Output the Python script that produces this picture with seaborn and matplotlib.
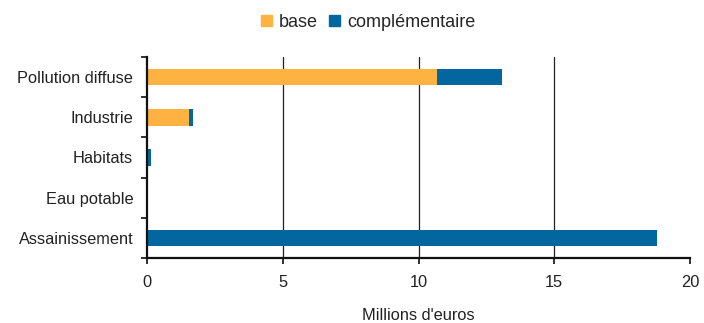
import matplotlib
matplotlib.use("Agg")
import matplotlib.pyplot as plt
import seaborn as sns
import pandas as pd
import numpy as np
from matplotlib.patches import Patch

categories = ["Pollution diffuse", "Industrie", "Habitats", "Eau potable", "Assainissement"]
base = [10.68, 1.55, 0.0, 0.0, 0.0]
complementaire = [2.39, 0.14, 0.15, 0.0, 18.8]
x_ticks = [0, 5, 10, 15, 20]

col_base = "#FDB241"
col_comp = "#04669F"

sns.set_theme(style="white")
plt.rcParams["font.family"] = ["Liberation Sans", "DejaVu Sans"]

df = pd.DataFrame({
    "cat": categories,
    "base": base,
    "comp": complementaire,
})
df["total"] = df["base"] + df["comp"]

fig = plt.figure(figsize=(7.04, 3.23), dpi=100)
ax = fig.add_axes([0.209, 0.201, 0.771, 0.623])

sns.barplot(data=df, y="cat", x="total", color=col_comp, orient="h",
            width=0.42, ax=ax, saturation=1, linewidth=0)
sns.barplot(data=df, y="cat", x="base", color=col_base, orient="h",
            width=0.42, ax=ax, saturation=1, linewidth=0)

fs = 11.8
ax.set_xlim(0, 20)
ax.set_ylim(4.5, -0.5)
ax.set_xticks(x_ticks)
ax.set_xticklabels([str(v) for v in x_ticks], fontsize=fs, color="#222222")
ax.set_yticks(range(len(categories)))
ax.set_yticklabels(categories, fontsize=fs, color="#222222")
ax.set_yticks(np.arange(-0.5, len(categories), 1.0), minor=True)
ax.tick_params(axis="y", which="major", left=False, length=0, pad=10)
ax.tick_params(axis="y", which="minor", left=True, length=4, width=1.3,
               color="#222222", direction="out")
ax.tick_params(axis="x", which="major", bottom=True, length=4, width=1.3,
               color="#222222", direction="out", pad=8)
ax.set_ylabel("")
ax.set_xlabel("Millions d'euros", fontsize=fs, color="#222222", labelpad=13)

for v in x_ticks[1:-1]:
    ax.axvline(v, color="#222222", linewidth=0.9, zorder=0)

for side in ["top", "right"]:
    ax.spines[side].set_visible(False)
for side in ["left", "bottom"]:
    ax.spines[side].set_color("#111111")
    ax.spines[side].set_linewidth(1.6)

handles = [Patch(color=col_base, label="base"), Patch(color=col_comp, label="complémentaire")]
fig.legend(handles=handles, loc="upper center", bbox_to_anchor=(0.523, 1.008), ncol=2,
           frameon=False, fontsize=13, handlelength=0.6, handleheight=0.6,
           handletextpad=0.4, columnspacing=0.6)

fig.savefig("out.png", dpi=100)
